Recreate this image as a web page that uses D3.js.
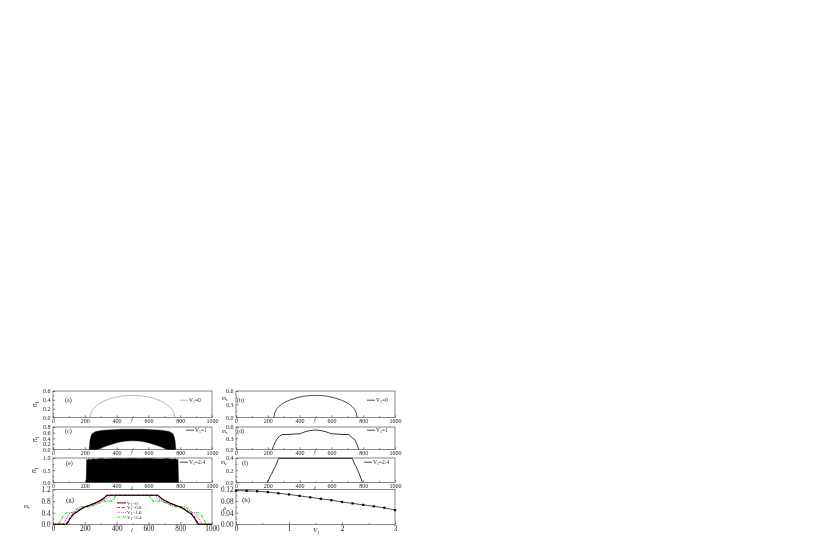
<!DOCTYPE html>
<html><head><meta charset="utf-8">
<script src="https://cdn.jsdelivr.net/npm/d3@7"></script>
<style>
body{margin:0;background:#fff}
svg{display:block;opacity:0.999;will-change:transform}
text{font-family:"Liberation Serif","DejaVu Serif",serif;fill:#222}
</style>
</head><body>
<svg id="c" width="830" height="545"></svg>
<script>
// ---------- DATA ----------
const siteTicks = [0, 200, 400, 600, 800, 1000];
const siteMinor = [100, 300, 500, 700, 900];

// (a) n_i, V1=0
const aI = [233,240,250,260,280,300,325,350,375,400,425,450,475,500,525,550,575,600,625,650,675,700,720,740,750,760,767];
const aN = [0,0.12,0.18,0.22,0.285,0.333,0.379,0.414,0.442,0.464,0.48,0.491,0.498,0.5,0.498,0.491,0.48,0.464,0.442,0.414,0.379,0.333,0.285,0.22,0.18,0.12,0];

// (b) m_s, V1=0
const bI = [238,245,255,270,290,310,335,360,390,420,450,480,500,520,550,580,610,640,665,690,710,730,745,755,762];
const bM = [0,0.12,0.19,0.25,0.31,0.35,0.39,0.42,0.455,0.478,0.492,0.499,0.5,0.499,0.492,0.478,0.455,0.42,0.39,0.35,0.31,0.25,0.19,0.12,0];

// (c) n_i, V1=1 : envelope of the site-to-site oscillation
const cI    = [228,232,238,245,255,270,290,310,340,370,400,430,460,500,540,570,600,630,660,690,710,730,745,755,762,768,772];
const cHigh = [0,0.3,0.45,0.55,0.6,0.64,0.66,0.68,0.69,0.7,0.71,0.72,0.72,0.72,0.72,0.72,0.71,0.7,0.69,0.68,0.66,0.64,0.6,0.55,0.45,0.3,0];
const cLow  = [0,0,0,0,0,0,0.02,0.07,0.13,0.19,0.24,0.28,0.3,0.31,0.3,0.28,0.24,0.19,0.13,0.07,0.02,0,0,0,0,0,0];

// (d) m_s, V1=1
const dI = [228,235,245,258,272,290,320,360,400,420,440,460,480,500,520,540,560,580,600,640,680,710,722,735,748,760,772];
const dM = [0,0.08,0.18,0.28,0.35,0.4,0.4,0.41,0.42,0.45,0.48,0.5,0.51,0.52,0.51,0.5,0.48,0.45,0.42,0.41,0.4,0.4,0.35,0.3,0.26,0.15,0];

// (e) n_i, V1=2.4 : upper envelope (lower envelope is 0)
const eI    = [208,212,218,225,235,250,270,300,330,360,400,450,500,550,600,640,680,720,750,770,780,786,790];
const eHigh = [0,0.96,0.9,0.97,0.93,0.97,0.95,0.98,0.96,0.97,0.98,0.97,0.98,0.97,0.98,0.97,0.96,0.98,0.95,0.97,0.93,0.96,0];

// (f) m_s, V1=2.4
const fI = [195,205,215,225,235,245,255,262,270,730,738,745,755,765,775,785,795];
const fM = [0,0.04,0.1,0.14,0.2,0.25,0.3,0.36,0.395,0.395,0.35,0.3,0.26,0.2,0.14,0.07,0];

// (g) m_s for four V1 values
const gLabels = ["0", "0.8", "1.6", "2.4"];
const g0I = [0,85,100,115,130,150,175,200,225,250,275,300,320,340,660,680,700,725,750,775,800,825,850,870,885,900,915,1000];
const g0M = [0,0,0.12,0.25,0.35,0.42,0.52,0.6,0.65,0.7,0.76,0.83,0.9,1.0,1.0,0.9,0.83,0.76,0.7,0.65,0.6,0.52,0.42,0.35,0.25,0.12,0,0];
const g1I = [0,80,95,110,130,150,175,200,225,250,275,300,320,338,662,680,700,725,750,775,800,825,850,870,890,905,920,1000];
const g1M = [0,0,0.1,0.25,0.38,0.43,0.53,0.6,0.64,0.7,0.75,0.82,0.9,1.0,1.0,0.9,0.82,0.75,0.7,0.64,0.6,0.53,0.43,0.38,0.25,0.1,0,0];
const g2I = [0,60,75,90,105,125,150,175,200,225,250,275,300,325,345,360,640,655,675,700,725,750,775,800,825,850,875,895,910,925,940,1000];
const g2M = [0,0,0.12,0.25,0.38,0.42,0.45,0.55,0.6,0.62,0.67,0.72,0.78,0.85,0.92,1.0,1.0,0.92,0.85,0.78,0.72,0.67,0.62,0.6,0.55,0.45,0.42,0.38,0.25,0.12,0,0];
const g3I = [0,35,50,65,85,125,145,170,235,255,275,300,320,370,385,395,605,615,630,680,700,725,745,765,830,855,875,915,935,950,965,1000];
const g3M = [0,0,0.15,0.3,0.4,0.4,0.5,0.6,0.6,0.65,0.7,0.75,0.8,0.8,0.9,1.0,1.0,0.9,0.8,0.8,0.75,0.7,0.65,0.6,0.6,0.5,0.4,0.4,0.3,0.15,0,0];

// (h) gap vs V1
const hV = [0,0.2,0.4,0.6,0.8,1.0,1.2,1.4,1.6,1.8,2.0,2.2,2.4,2.6,2.8,3.0];
const hD = [0.116,0.1155,0.114,0.111,0.107,0.103,0.098,0.093,0.088,0.083,0.077,0.072,0.067,0.062,0.057,0.049];

// ---------- DRAWING ----------
const svg = d3.select("#c");
svg.append("rect").attr("width", 830).attr("height", 545).attr("fill", "#fff");
const INK = "#333";

function styleAxis(sel, fs) {
  sel.select(".domain").remove();
  sel.selectAll("line").attr("stroke", INK).attr("stroke-width", 0.6);
  sel.selectAll("text").attr("font-size", fs).attr("fill", "#222")
     .attr("font-family", '"Liberation Serif","DejaVu Serif",serif');
  sel.attr("font-family", null).attr("font-size", null);
}

function makePanel(p) {
  const x = d3.scaleLinear().domain(p.xd).range([p.l, p.r]);
  const y = d3.scaleLinear().domain(p.yd).range([p.b, p.t]);
  const g = svg.append("g");
  const gx = g.append("g").attr("transform", `translate(0,${p.b})`)
    .call(d3.axisBottom(x).tickValues(p.xt).tickSize(-2.2).tickPadding(p.xp).tickFormat(p.xf));
  styleAxis(gx, p.fs);
  const gxm = g.append("g").attr("transform", `translate(0,${p.b})`)
    .call(d3.axisBottom(x).tickValues(p.xm).tickSize(-1.2).tickFormat(""));
  styleAxis(gxm, p.fs);
  const gy = g.append("g").attr("transform", `translate(${p.l},0)`)
    .call(d3.axisLeft(y).tickValues(p.yt).tickSize(-2.2).tickPadding(2.5).tickFormat(p.yf));
  styleAxis(gy, p.fs);
  const gym = g.append("g").attr("transform", `translate(${p.l},0)`)
    .call(d3.axisLeft(y).tickValues(p.ym).tickSize(-1.2).tickFormat(""));
  styleAxis(gym, p.fs);
  g.append("rect").attr("x", p.l).attr("y", p.t).attr("width", p.r - p.l).attr("height", p.b - p.t)
    .attr("fill", "none").attr("stroke", INK).attr("stroke-width", 0.6);
  return { g, x, y };
}

function subText(parent, x, y, main, sub, rest, fs, opts = {}) {
  const t = parent.append("text").attr("x", x).attr("y", y).attr("font-size", fs);
  if (opts.anchor) t.attr("text-anchor", opts.anchor);
  if (opts.rotate) t.attr("transform", `rotate(-90,${x},${y})`);
  t.append("tspan").text(main).attr("font-style", opts.italic ? "italic" : null);
  t.append("tspan").text(sub).attr("font-size", fs * 0.7).attr("dy", fs * 0.25);
  if (rest) t.append("tspan").text(rest).attr("dy", -fs * 0.25);
  return t;
}

const L = { l: 53, r: 212 }, R = { l: 236, r: 395 };
const rows = [
  { t: 391, b: 417.5 },
  { t: 427, b: 449.5 },
  { t: 458, b: 482.3 },
  { t: 489.5, b: 524.3 }
];
const f1 = d3.format(".1f"), f2 = d3.format(".2f"), fi = d3.format("d");

function sitePanel(col, row, yd, yt, ym, fs) {
  return makePanel({ ...col, ...row, xd: [0, 1000], xt: siteTicks, xm: siteMinor, xf: fi,
    yd, yt, ym, yf: f1, fs: fs || 6, xp: fs ? 2 : 1.2 });
}

const pa = sitePanel(L, rows[0], [0, 0.6], [0, 0.2, 0.4, 0.6], [0.1, 0.3, 0.5]);
const pb = sitePanel(R, rows[0], [0, 0.6], [0, 0.3, 0.6], [0.15, 0.45]);
const pc = sitePanel(L, rows[1], [0, 0.8], [0, 0.2, 0.4, 0.6, 0.8], []);
const pd = sitePanel(R, rows[1], [0, 0.6], [0, 0.3, 0.6], [0.15, 0.45]);
const pe = sitePanel(L, rows[2], [0, 1.0], [0, 0.5, 1.0], [0.25, 0.75]);
const pf = sitePanel(R, rows[2], [0, 0.4], [0, 0.2, 0.4], [0.1, 0.3]);
const pg = sitePanel(L, rows[3], [0, 1.2], [0, 0.4, 0.8, 1.2], [0.2, 0.6, 1.0], 7.2);
const ph = makePanel({ ...R, ...rows[3], xd: [0, 3], xt: [0, 1, 2, 3], xm: [0.5, 1.5, 2.5], xf: fi,
  yd: [0, 0.12], yt: [0, 0.04, 0.08, 0.12], ym: [0.02, 0.06, 0.1], yf: f2, fs: 7.2, xp: 2 });

function drawLine(p, xs, ys, color, w, dash) {
  const line = d3.line().x((d, k) => p.x(xs[k])).y(d => p.y(d));
  p.g.append("path").datum(ys).attr("d", line).attr("fill", "none")
    .attr("stroke", color).attr("stroke-width", w).attr("stroke-dasharray", dash || null)
    .attr("stroke-linejoin", "round");
}
function drawBand(p, xs, hi, lo) {
  const area = d3.area().x((d, k) => p.x(xs[k])).y1(d => p.y(d))
    .y0((d, k) => p.y(lo ? lo[k] : 0));
  p.g.append("path").datum(hi).attr("d", area).attr("fill", "#000").attr("stroke", "#000").attr("stroke-width", 0.4);
}

drawLine(pa, aI, aN, "#9a9a9a", 0.7);
drawLine(pb, bI, bM, "#000", 0.7);
drawBand(pc, cI, cHigh, cLow);
drawLine(pd, dI, dM, "#000", 0.8);
drawBand(pe, eI, eHigh, null);
drawLine(pf, fI, fM, "#000", 0.8);

const gSeries = [
  { xs: g3I, ys: g3M, color: "#22dd22", dash: "3,1,1,1" },
  { xs: g2I, ys: g2M, color: "#ff22ff", dash: "1,1" },
  { xs: g1I, ys: g1M, color: "#ff0000", dash: "3,1.5" },
  { xs: g0I, ys: g0M, color: "#000000", dash: null }
];
gSeries.forEach(s => drawLine(pg, s.xs, s.ys, s.color, 1.1, s.dash));

drawLine(ph, hV, hD, "#000", 0.7);
ph.g.selectAll("rect.pt").data(hD).join("rect").attr("class", "pt")
  .attr("x", (d, k) => ph.x(hV[k]) - 1.1).attr("y", d => ph.y(d) - 1.1)
  .attr("width", 2.2).attr("height", 2.2).attr("fill", "#000");

// ---------- TEXT ----------
const FS = 6;
function panelLetter(x, y, s, fs) {
  svg.append("text").attr("x", x).attr("y", y).attr("font-size", fs || FS).text(s);
}
panelLetter(65, 402, "(a)");
panelLetter(237, 402, "(b)");
panelLetter(65, 433, "(c)");
panelLetter(237, 433, "(d)");
panelLetter(66, 465, "(e)");
panelLetter(242, 465, "(f)");
panelLetter(66, 502, "(g)", 7);
panelLetter(242, 502, "(h)", 7);

// x axis titles
[[132, 421.5], [315, 421.5], [132, 453.5], [315, 453.5], [132, 489.5], [315, 489.5], [132, 532]].forEach(([x, y]) =>
  svg.append("text").attr("x", x).attr("y", y).attr("font-size", 6.5).attr("text-anchor", "middle")
    .attr("font-style", "italic").text("i"));
subText(svg, 313, 532, "V", "1", "", 7, { italic: true });

// y axis titles
subText(svg, 37, 407, "n", "i", "", 7.5, { rotate: true, italic: true });
subText(svg, 37, 442, "n", "i", "", 7.5, { rotate: true, italic: true });
subText(svg, 36, 473, "n", "i", "", 7.5, { rotate: true, italic: true });
subText(svg, 222, 400, "m", "s", "", 5.5, { italic: true });
subText(svg, 222, 433, "m", "s", "", 5.5, { italic: true });
subText(svg, 221, 464, "m", "s", "", 5.5, { italic: true });
subText(svg, 24, 508, "m", "s", "", 5.5, { italic: true });
svg.append("text").attr("x", 223).attr("y", 510).attr("font-size", 5).attr("font-style", "italic").text("Δ");

// legends in (a)-(f)
function legend(x, y, label, color) {
  svg.append("line").attr("x1", x).attr("x2", x + 8).attr("y1", y - 1.8).attr("y2", y - 1.8)
    .attr("stroke", color).attr("stroke-width", 0.7);
  subText(svg, x + 9, y, "V", "1", "=" + label, 5.5);
}
legend(180, 402, "0", "#9a9a9a");
legend(367, 402, "0", "#000");
legend(186, 432, "1", "#000");
legend(367, 432, "1", "#000");
legend(180, 464, "2.4", "#000");
legend(364, 464, "2.4", "#000");

// legend in (g)
const gLeg = [
  { color: "#000000", dash: null },
  { color: "#ff0000", dash: "3,1.5" },
  { color: "#ff22ff", dash: "1,1" },
  { color: "#22dd22", dash: "3,1,1,1" }
];
gLabels.forEach((lab, k) => {
  const y = 504.5 + k * 4.7;
  svg.append("line").attr("x1", 117).attr("x2", 126).attr("y1", y - 1.6).attr("y2", y - 1.6)
    .attr("stroke", gLeg[k].color).attr("stroke-width", 0.9).attr("stroke-dasharray", gLeg[k].dash);
  subText(svg, 127, y, "V", "1", "=" + lab, 5);
});
</script>
</body></html>
